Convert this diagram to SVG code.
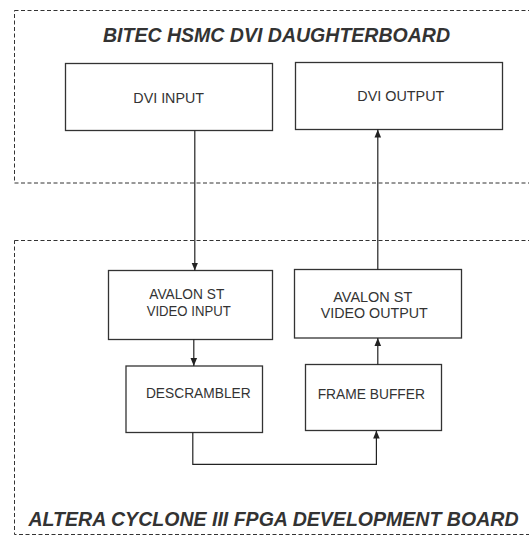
<svg xmlns="http://www.w3.org/2000/svg" width="529" height="536" viewBox="0 0 529 536">
<defs>
<marker id="ah" markerWidth="8" markerHeight="10" refX="8" refY="5" orient="auto" markerUnits="userSpaceOnUse">
<path d="M0,1.7 L8,5 L0,8.3 Z" fill="#222"/>
</marker>
<style>
.board{fill:none;stroke:#333;stroke-width:1;stroke-dasharray:4,2.5}
.node{fill:#fff;stroke:#333;stroke-width:1.3}
.lbl{font-family:"Liberation Sans",Arial,sans-serif;font-size:15px;fill:#333;text-anchor:middle}
.title{font-family:"Liberation Sans",Arial,sans-serif;font-size:19.5px;font-weight:bold;font-style:italic;fill:#333;text-anchor:middle}
.conn{fill:none;stroke:#222;stroke-width:1.2}
</style>
</defs>
<rect width="529" height="536" fill="#fff"/>
<g id="bitec-board">
<rect class="board" x="14.5" y="10.5" width="530" height="172.5"/>
<text class="title" x="276.5" y="42" textLength="347" lengthAdjust="spacingAndGlyphs">BITEC HSMC DVI DAUGHTERBOARD</text>
</g>
<g id="altera-board">
<rect class="board" x="14.5" y="240.5" width="530" height="294"/>
<text class="title" x="273.5" y="525.5" textLength="490" lengthAdjust="spacingAndGlyphs">ALTERA CYCLONE III FPGA DEVELOPMENT BOARD</text>
</g>
<g id="dvi-input">
<rect class="node" x="65.5" y="63.5" width="207" height="67"/>
<text class="lbl" x="168.7" y="102.7" textLength="70.7" lengthAdjust="spacingAndGlyphs">DVI INPUT</text>
</g>
<g id="dvi-output">
<rect class="node" x="295.5" y="62.5" width="207" height="67"/>
<text class="lbl" x="400.8" y="101" textLength="87" lengthAdjust="spacingAndGlyphs">DVI OUTPUT</text>
</g>
<g id="avalon-st-video-input">
<rect class="node" x="108.5" y="270.5" width="164" height="69"/>
<text class="lbl" x="186.8" y="299" textLength="75" lengthAdjust="spacingAndGlyphs">AVALON ST</text>
<text class="lbl" x="188.7" y="315.7" textLength="84" lengthAdjust="spacingAndGlyphs">VIDEO INPUT</text>
</g>
<g id="avalon-st-video-output">
<rect class="node" x="294.5" y="269.5" width="167" height="68.5"/>
<text class="lbl" x="372.8" y="301.7" textLength="79" lengthAdjust="spacingAndGlyphs">AVALON ST</text>
<text class="lbl" x="374.2" y="318.3" textLength="107" lengthAdjust="spacingAndGlyphs">VIDEO OUTPUT</text>
</g>
<g id="descrambler">
<rect class="node" x="126" y="366" width="136.5" height="66.5"/>
<text class="lbl" x="198.3" y="398.3" textLength="104.7" lengthAdjust="spacingAndGlyphs">DESCRAMBLER</text>
</g>
<g id="frame-buffer">
<rect class="node" x="305.5" y="364.5" width="136" height="66"/>
<text class="lbl" x="371.3" y="399.3" textLength="107.3" lengthAdjust="spacingAndGlyphs">FRAME BUFFER</text>
</g>
<g id="connectors">
<line class="conn" x1="194.8" y1="130.7" x2="194.8" y2="270.5" marker-end="url(#ah)"/>
<line class="conn" x1="377.8" y1="269.5" x2="377.8" y2="129.6" marker-end="url(#ah)"/>
<line class="conn" x1="193.8" y1="339.5" x2="193.8" y2="366" marker-end="url(#ah)"/>
<line class="conn" x1="377.8" y1="364.5" x2="377.8" y2="338" marker-end="url(#ah)"/>
<polyline class="conn" points="192.8,432.5 192.8,464.4 376.4,464.4 376.4,430.6" marker-end="url(#ah)"/>
</g>
</svg>
